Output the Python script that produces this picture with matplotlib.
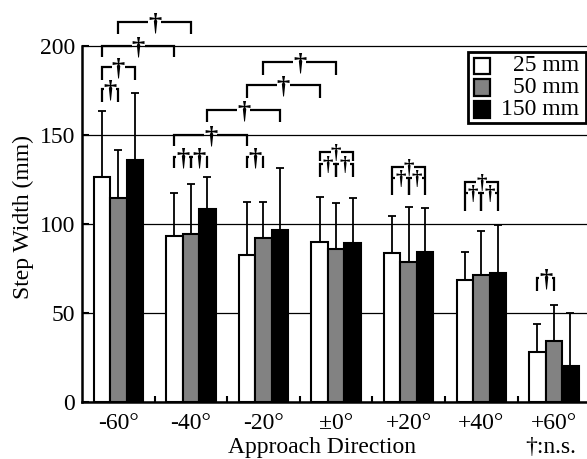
import numpy as np
import matplotlib
matplotlib.use('Agg')
import matplotlib.pyplot as plt
from matplotlib.patches import Rectangle
from matplotlib.transforms import offset_copy

plt.rcParams['font.family'] = ['Liberation Serif', 'DejaVu Serif']

# ---------------- data ----------------
directions = ['-60°', '-40°', '-20°', '±0°', '+20°', '+40°', '+60°']
series_labels = ['25 mm', '50 mm', '150 mm']
mean_25 = [126.4, 93.4, 82.6, 90.0, 83.9, 68.5, 27.9]
mean_50 = [114.6, 94.6, 92.0, 85.8, 78.8, 71.3, 34.4]
mean_150 = [136.0, 108.3, 96.6, 89.5, 84.0, 72.6, 20.2]
sd_25 = [37.1, 24.0, 30.0, 25.0, 20.8, 15.5, 15.9]
sd_50 = [27.0, 27.9, 20.6, 26.2, 30.9, 24.9, 20.1]
sd_150 = [37.6, 18.1, 34.7, 24.9, 24.8, 26.8, 29.6]
y_ticks = [0, 50, 100, 150, 200]

means = [mean_25, mean_50, mean_150]
sds = [sd_25, sd_50, sd_150]
colors = ['white', '#828282', 'black']

# ---------------- layout ----------------
W, H = 587, 459
PX_PER_UNIT = 1.78
PX_PER_GROUP = 72.6
fig = plt.figure(figsize=(W / 100, H / 100), dpi=100)
ylim_top = 225
ax = fig.add_axes([82 / W, (H - 402) / H, 7 * PX_PER_GROUP / W, ylim_top * PX_PER_UNIT / H])
ax.set_xlim(-0.5, 6.5)
ax.set_ylim(0, ylim_top)

bw = 0.227
x = np.arange(len(directions))
offsets = [-bw, 0, bw]

for k in range(3):
    ax.bar(x + offsets[k], means[k], width=bw, color=colors[k], edgecolor='black',
           linewidth=1.5, zorder=3)
    ax.errorbar(x + offsets[k], means[k], yerr=[np.zeros(len(x)), sds[k]], fmt='none',
                ecolor='black', elinewidth=1.3, capsize=3, capthick=1.3, zorder=2)

ax.set_yticks(y_ticks)
ax.set_yticklabels([str(t) for t in y_ticks], fontsize=17)
ax.yaxis.grid(True, color='black', linewidth=0.9)
ax.set_axisbelow(True)
ax.set_xticks(x)
ax.set_xticklabels(directions, fontsize=17)
ax.set_xticks(np.arange(0.5, 7, 1), minor=True)
ax.tick_params(axis='x', which='major', length=0, pad=8)
ax.tick_params(axis='x', which='minor', direction='in', length=4, width=1.5)
ax.tick_params(axis='y', direction='in', length=5, width=1.5, pad=5)
for s in ['top', 'right']:
    ax.spines[s].set_visible(False)
ax.spines['left'].set_bounds(0, 200)
ax.spines['left'].set_linewidth(1.8)
ax.spines['bottom'].set_linewidth(1.8)

fig.text(23 / W, 1 - 217 / H, 'Step Width (mm)', rotation=90, ha='center', va='center', fontsize=17)
fig.text(322 / W, 1 - 447 / H, 'Approach Direction', ha='center', va='center', fontsize=17)
fig.text(551 / W, 1 - 447 / H, '†:n.s.', ha='center', va='center', fontsize=17)


# ---------------- significance brackets ----------------
def bx(g, k):
    return g + offsets[k]


def bracket(g1, k1, g2, k2, y, leg_px, fs):
    xa, xb = bx(g1, k1), bx(g2, k2)
    legd = leg_px / PX_PER_UNIT
    xc = (xa + xb) / 2
    gap = (0.45 * fs * 100 / 72 + 1) / 2 / PX_PER_GROUP
    kw = dict(color='black', lw=1.6, solid_capstyle='butt', solid_joinstyle='miter',
              zorder=5, clip_on=False)
    ax.plot([xa, xa, xc - gap], [y - legd, y, y], **kw)
    ax.plot([xc + gap, xb, xb], [y, y, y - legd], **kw)
    em = fs * 100 / 72
    tr = offset_copy(ax.transData, fig=fig, x=0, y=-0.33 * em, units='dots')
    ax.text(xc, y, '†', ha='center', va='baseline', fontsize=fs, fontweight='bold',
            zorder=6, transform=tr)


brackets = [
    (0, 1, 1, 1, 213.5, 12, 19),
    (0, 0, 1, 0, 200.0, 11, 19),
    (0, 0, 0, 2, 188.2, 13, 19),
    (0, 0, 0, 1, 175.8, 13, 19),
    (1, 0, 2, 0, 150.0, 11, 19),
    (1, 2, 2, 2, 164.0, 12, 19),
    (2, 0, 3, 0, 178.1, 13, 19),
    (2, 1, 3, 1, 191.2, 13, 19),
    (1, 0, 1, 1, 137.6, 11, 19),
    (1, 1, 1, 2, 137.6, 11, 19),
    (2, 0, 2, 1, 137.6, 11, 19),
    (3, 0, 3, 2, 140.5, 9, 15),
    (3, 0, 3, 1, 133.7, 13, 15),
    (3, 1, 3, 2, 133.7, 13, 15),
    (4, 0, 4, 2, 132.2, 10, 15),
    (4, 0, 4, 1, 125.7, 17, 15),
    (4, 1, 4, 2, 125.7, 17, 15),
    (5, 0, 5, 2, 123.8, 10, 15),
    (5, 0, 5, 1, 117.4, 18, 15),
    (5, 1, 5, 2, 117.4, 18, 15),
    (6, 0, 6, 1, 69.5, 13, 19),
]
for b in brackets:
    bracket(*b)

# ---------------- legend (manual) ----------------
def fx(px):
    return px / W


def fy(py):
    return 1 - py / H


fig.patches.append(Rectangle((fx(467.5), fy(123)), fx(586) - fx(467.5), fy(52) - fy(123),
                             transform=fig.transFigure, facecolor='white', edgecolor='black',
                             linewidth=2, zorder=10))
row_y = [66, 87.5, 109.5]
for k in range(3):
    fig.patches.append(Rectangle((fx(474), fy(row_y[k] + 8)), fx(16), 16 / H,
                                 transform=fig.transFigure, facecolor=colors[k],
                                 edgecolor='black', linewidth=1.6, zorder=11))
    fig.text(fx(579), fy(row_y[k]), series_labels[k], ha='right', va='center', fontsize=17, zorder=12)

fig.savefig('out.png', dpi=100)
